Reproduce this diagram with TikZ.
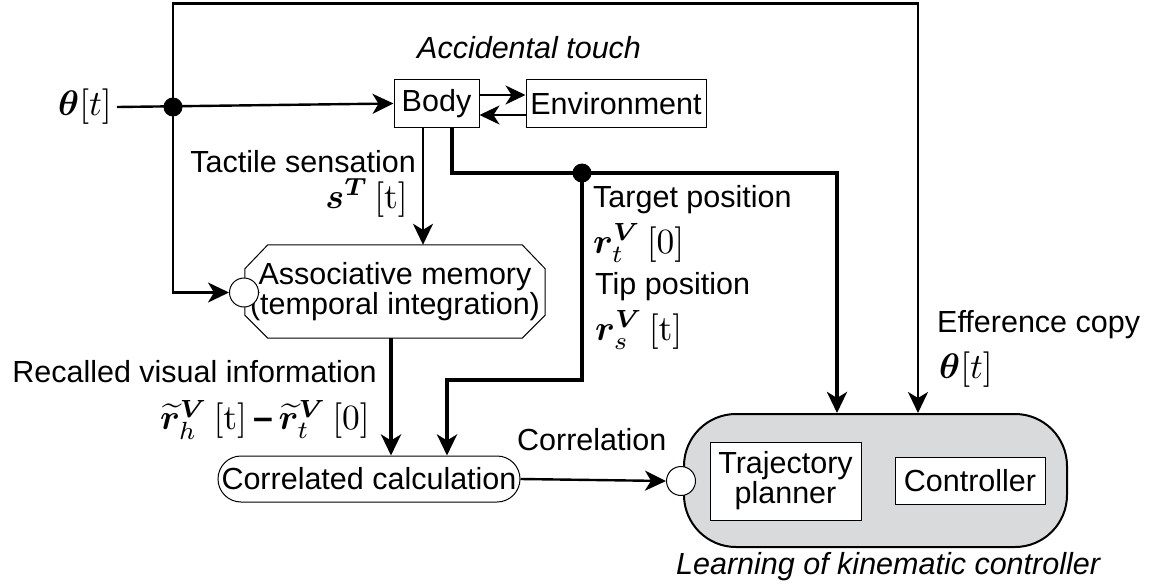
\documentclass[tikz,border=0pt]{standalone}
\usepackage[no-math]{fontspec}
\setmainfont{Liberation Sans}
\usepackage{amsmath,bm}
\usetikzlibrary{arrows.meta}
\definecolor{panelgray}{RGB}{217,218,220}
% formulas are set at 10pt and enlarged to the label size
\newcommand{\lblmath}[1]{\scalebox{3.55}{\fontsize{10}{12}\selectfont$#1$}}

\begin{document}
\begin{tikzpicture}[x=1pt,y=-1pt,
  every node/.style={font=\fontsize{30.5}{30}\selectfont, inner sep=0pt},
  thinln/.style={line width=2.4pt},
  thickln/.style={line width=4.5pt},
  arr/.style={-{Stealth[length=21pt,width=20pt,inset=6pt]}},
  sarr/.style={-{Stealth[length=20pt,width=19pt,inset=6pt]}},
  blk/.style={draw, line width=1pt, fill=white, align=center},
  port/.style={circle, draw, line width=1pt, fill=white, minimum size=29pt}
]
\useasboundingbox (0,0) rectangle (1149,586);

% ---- blocks ----
\node[blk, minimum width=85pt, minimum height=47pt] (body) at (436.5,103.5) {Body};
\node[blk, minimum width=180pt, minimum height=47pt] (env) at (616,103.5) {Environment};

% associative memory: chamfered outline around a frameless anchor box
\node[minimum width=300pt, minimum height=93pt, align=center] (am) at (395,291.5)
  {Associative memory\\(temporal integration)};
\draw[line width=1pt]
  ([xshift=23pt]am.north west) -- ([xshift=-23pt]am.north east)
  -- ([yshift=-24pt]am.north east) -- ([yshift=23pt]am.south east)
  -- ([xshift=-23pt]am.south east) -- ([xshift=23pt]am.south west)
  -- ([yshift=23pt]am.south west) -- ([yshift=-24pt]am.north west) -- cycle;

\node[blk, minimum width=302pt, minimum height=46pt, rounded corners=23pt] (cc) at (369,479)
  {Correlated calculation};

\node[draw, line width=2pt, fill=panelgray, minimum width=383pt, minimum height=133pt,
      rounded corners=52pt] (ctrl) at (875.5,480.5) {};
\node[blk, minimum width=151pt, minimum height=78pt] (tp) at (785.5,481)
  {Trajectory\\planner};
\node[blk, minimum width=150pt, minimum height=47pt] (co) at (970,480.5) {Controller};

\node[port] (p1) at (244,292.5) {};
\node[port] (p2) at (681,481) {};

% ---- labels ----
\node[anchor=east] (th) at (112,107) {\lblmath{\bm{\theta}[t]}};
\node[anchor=west] (acc) at (417,48) {\itshape Accidental touch};
\node[anchor=east] (ts) at (416,162) {Tactile sensation};
\node[anchor=east] (tsm) at (408,198) {\lblmath{\bm{s}^{\bm{T}}\,[\mathrm{t}]}};
\node[anchor=west] (tg) at (593,200) {Target position};
\node[anchor=west] (tgm) at (593,243) {\lblmath{\bm{r}^{\bm{V}}_{t}\,[0]}};
\node[anchor=west] (tip) at (595,287) {Tip position};
\node[anchor=west] (tipm) at (595,330) {\lblmath{\bm{r}^{\bm{V}}_{s}\,[\mathrm{t}]}};
\node[anchor=west] (ef) at (937,325) {Efference copy};
\node[anchor=west] (efm) at (939,370) {\lblmath{\bm{\theta}[t]}};
\node[anchor=east] (rv) at (377,372) {Recalled visual information};
\node[anchor=east] (rvm) at (370,420)
  {\lblmath{\widetilde{\bm{r}}^{\bm{V}}_{h}\,[\mathrm{t}]\,\text{\textbf{--}}\,\widetilde{\bm{r}}^{\bm{V}}_{t}\,[0]}};
\node[anchor=west] (corr) at (517,440) {Correlation};
\node[anchor=west] (lk) at (676,567) {\itshape Learning of kinematic controller};

% ---- junctions and bends ----
\coordinate (j1) at (173,107);
\coordinate (top) at (173,3.5);
\coordinate (efx) at (918,3.5);
\coordinate (j2) at (582,173);
\coordinate (bend) at (447,380);

% ---- connectors ----
\draw[thinln, arr] ([xshift=5pt]th.east) -- (body.west);
\draw[thinln, arr] (j1) |- (p1.west);
\draw[thinln, arr] (j1) -- (top) -- (efx) -- (efx |- ctrl.north);
\draw[thinln, sarr] ([yshift=8.5pt]body.east) -- ([yshift=8.5pt]env.west);
\draw[thinln, sarr] ([yshift=-11.5pt]env.west) -- ([yshift=-11.5pt]body.east);
\draw[thinln, arr] ([xshift=-13.5pt]body.south) -- ([xshift=-13.5pt]body.south |- am.north);
\draw[thickln, arr] ([xshift=15.5pt]body.south) |- (j2) -| ([xshift=-38.5pt]ctrl.north);
\draw[thickln, arr] (j2) |- (bend) -- (bend |- cc.north);
\draw[thickln, arr] ([xshift=-4pt]am.south) -- ([xshift=-4pt]am.south |- cc.north);
\draw[thinln, arr] (cc.east) -- (p2.west);

\fill (j1) circle (9.5pt);
\fill (j2) circle (9.5pt);
\end{tikzpicture}
\end{document}
